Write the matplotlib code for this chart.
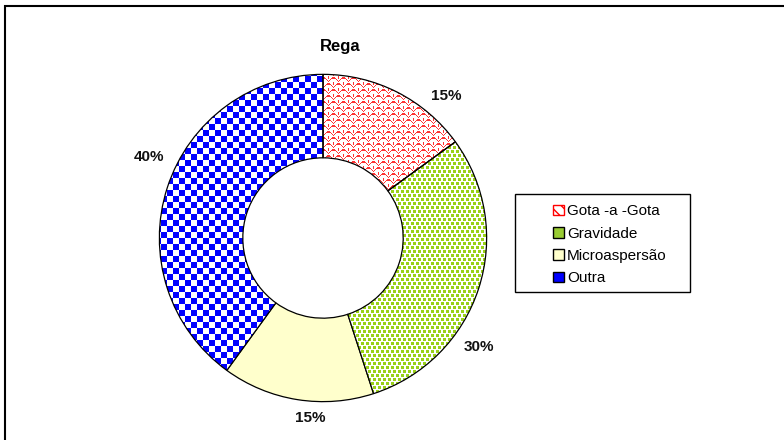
import matplotlib.pyplot as plt
import numpy as np
from matplotlib.patches import Rectangle, Patch

categories = ["Gota -a -Gota", "Gravidade", "Microaspersão", "Outra"]
values = [15, 30, 15, 40]
title = "Rega"

plt.rcParams['font.family'] = ['Liberation Sans', 'DejaVu Sans']

W, H = 784, 440
fig = plt.figure(figsize=(W / 100, H / 100), dpi=100)

# outer chart border (runs off the right and bottom edges)
fig.patches.append(Rectangle((5 / W, -0.1), 1.2, 1.1 - 6 / H, transform=fig.transFigure,
                             fill=False, edgecolor='black', linewidth=1.5))

n = 360
ax = fig.add_axes([143 / W, 22 / H, n / W, n / H])

wedges, texts = ax.pie(
    values, startangle=90, counterclock=False, radius=1,
    wedgeprops=dict(width=0.51, edgecolor='black', linewidth=0.9))

# percentage labels, nudged round the ring like Excel places them
label_shift = [-14, -17, 5, -7]
label_r = [1.15, 1.16, 1.10, 1.17]
total = sum(values)
for w, v, sh, r in zip(wedges, values, label_shift, label_r):
    ang = np.deg2rad((w.theta1 + w.theta2) / 2 + sh)
    ax.text(r * np.cos(ang), r * np.sin(ang), f"{100 * v / total:.0f}%",
            ha='center', va='center', fontsize=11, fontweight='bold', color='#111111')

# pixel patterns
yy, xx = np.mgrid[0:n, 0:n]


def pattern(mask, color):
    img = np.ones((n, n, 4))
    img[mask, :3] = color
    return img


# red fish-scale
band = yy // 6
u = (xx + 5 * (band % 2)) % 10
wave = 1 + 3.5 * np.abs(np.sin(np.pi * u / 10))
red_mask = np.abs((yy % 6) - (6 - wave)) < 0.7
red_mask |= (u == 0) & ((yy % 6) < 3)
red = pattern(red_mask, (1, 0.2, 0.2))

# green staggered dots
row = yy // 4
green_mask = (((xx + 2 * (row % 2)) % 5) < 3) & ((yy % 4) < 3)
green = pattern(green_mask, (0.6, 0.82, 0.1))

# blue checkerboard
blue_mask = ((xx // 6 + yy // 6) % 2) == 0
blue = pattern(blue_mask, (0, 0, 1))

for w, img in [(wedges[0], red), (wedges[1], green), (wedges[3], blue)]:
    w.set_facecolor('none')
    w.set_zorder(3)
    im = ax.imshow(img, extent=(-1.1, 1.1, -1.1, 1.1), interpolation='nearest', zorder=1)
    im.set_clip_path(w)
wedges[2].set_facecolor('#FFFFCC')

ax.set_xlim(-1.1, 1.1)
ax.set_ylim(-1.1, 1.1)
ax.set_aspect('equal')
ax.axis('off')

fig.text(340 / W, 1 - 47 / H, title, ha='center', va='center', fontsize=12, fontweight='bold')

# legend
fig.patches.append(Rectangle((515 / W, 1 - 292 / H), 175 / W, 98 / H, transform=fig.transFigure,
                             fill=False, edgecolor='black', linewidth=1.0))
handles = [
    Patch(facecolor='white', edgecolor='red', hatch='\\\\\\'),
    Patch(facecolor='#99CC33', edgecolor='black'),
    Patch(facecolor='#FFFFCC', edgecolor='black'),
    Patch(facecolor='#0000FF', edgecolor='black'),
]
fig.legend(handles, categories, loc='upper left', bbox_to_anchor=(538 / W, 1 - 189 / H),
           frameon=False, fontsize=11, handlelength=0.7, handleheight=0.7,
           handletextpad=0.2, labelspacing=0.55, borderpad=0.5)

fig.savefig('out.png', dpi=100)
